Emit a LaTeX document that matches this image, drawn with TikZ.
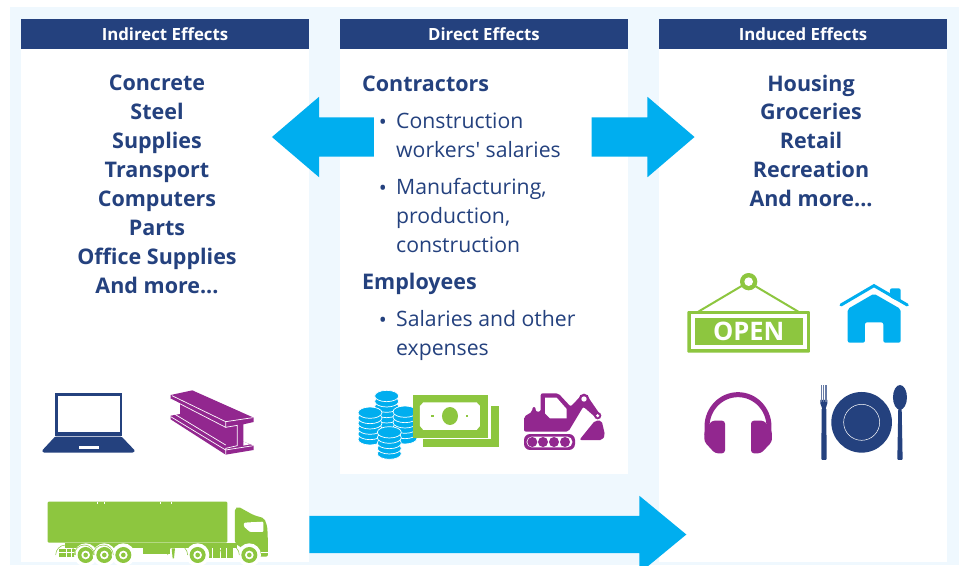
\documentclass[tikz,border=0pt]{standalone}
\usepackage{fontspec}
\setmainfont{Open Sans}
\usetikzlibrary{positioning,shapes.arrows}
\definecolor{mynavy}{HTML}{24417E}
\definecolor{myblue}{HTML}{00AEEF}
\definecolor{mygreen}{HTML}{8DC63F}
\definecolor{mypurple}{HTML}{92278F}
\definecolor{mypale}{HTML}{EFF8FE}
\tikzset{
  panel/.style={fill=white, minimum width=288pt, inner sep=0pt, anchor=north},
  header/.style={fill=mynavy, text=white, minimum width=288pt, minimum height=30pt, inner sep=0pt, anchor=north, font=\fontsize{16.8}{18}\selectfont\bfseries},
  heavy/.style={text=mynavy, align=center, inner sep=0pt, font=\fontsize{21.5}{28.9}\selectfont\bfseries},
  plain/.style={text=mynavy, align=left, inner sep=0pt, anchor=north west, font=\fontsize{21.2}{29}\selectfont},
  bigarrow/.style={single arrow, fill=myblue, inner sep=0pt, single arrow head indent=0pt},
  icon/.style={x=0.3333pt, y=-0.3333pt}
}

\begin{document}
\begin{tikzpicture}[x=1pt, y=-1pt]
\useasboundingbox (0,0) rectangle (961,565);
\fill[mypale] (10,7) rectangle (959,565);

% Indirect effects panel
\node[panel, minimum height=543pt] (leftpanel) at (165,19) {};
\node[header] (lefthead) at (165,19) {Indirect Effects};
\node[heavy, anchor=north] (lefttext) at (157,75) {Concrete\\Steel\\Supplies\\Transport\\Computers\\Parts\\Office Supplies\\And more...};

% Direct effects panel
\node[panel, minimum height=455pt] (midpanel) at (484,19) {};
\node[header] (midhead) at (484,19) {Direct Effects};
\node[heavy, anchor=west] (contractors) at (362,84) {Contractors};
\node[plain] (builders) at (396,112.5) {Construction\\workers\textquotesingle{} salaries};
\node[plain] (makers) at (396,178) {Manufacturing,\\production,\\construction};
\node[heavy, anchor=west] (employees) at (362,284) {Employees};
\node[plain] (salaries) at (396,310) {Salaries and other\\expenses};
\node[plain, below left=6.5pt and 9pt of builders.north west] (dotone) {•};
\node[plain, below left=6.5pt and 9pt of makers.north west] (dottwo) {•};
\node[plain, below left=6.5pt and 9pt of salaries.north west] (dotthree) {•};

% Induced effects panel
\node[panel, minimum height=543pt] (rightpanel) at (803,19) {};
\node[header] (righthead) at (803,19) {Induced Effects};
\node[heavy, anchor=north] (righttext) at (811,74.5) {Housing\\Groceries\\Retail\\Recreation\\And more...};

% Flow arrows
\node[bigarrow, text height=19.5pt, text depth=19.5pt, minimum height=102pt, single arrow head extend=20.5pt, single arrow tip angle=81, shape border rotate=180] (toleft) at (334.5,137) {};
\node[bigarrow, text height=19.5pt, text depth=19.5pt, minimum height=103pt, single arrow head extend=20.5pt, single arrow tip angle=81] (toright) at (631.5,137) {};
\node[bigarrow, text height=18.5pt, text depth=18.5pt, minimum height=377pt, single arrow head extend=20pt, single arrow tip angle=79] (tobottom) at (486.5,534.5) {};

% Laptop
\begin{scope}[shift={(20,380)}, icon]
\fill[mynavy] (105,38) rectangle (307,168);
\fill[white] (113,47) rectangle (300,157);
\fill[mynavy, rounded corners=1pt] (105,170) -- (305,170) -- (345,212) -- (340,218) -- (70,218) -- (66,212) -- cycle;
\fill[white] (177,198) rectangle (237,208);
\end{scope}

% Steel beam
\begin{scope}[shift={(160,385)}, icon]
\fill[mypurple] (32,30) -- (97,16) -- (281,98) -- (281,111) -- (250,118) -- (250,170) -- (281,182) -- (281,195) -- (197,209) -- (32,103) -- (32,92) -- (60,87) -- (60,55) -- (32,42) -- cycle;
\draw[white, line width=0.7pt] (36,32) -- (197,110) -- (278,98);
\draw[white, line width=0.7pt] (197,110) -- (197,127) -- (232,121) -- (232,182) -- (197,190) -- (197,209);
\draw[white, line width=0.7pt] (32,42) -- (197,127);
\draw[white, line width=0.7pt] (45,88) -- (197,180);
\draw[white, line width=0.7pt] (32,95) -- (197,195) -- (280,182);
\fill[white] (250,170) -- (270,178) -- (250,182) -- cycle;
\end{scope}

% Truck
\begin{scope}[shift={(20,380)}, icon]
\fill[mygreen, rounded corners=1pt] (83,365) rectangle (622,488);
\draw[white, line width=0.3pt] (232,365) -- (232,372) (253,365) -- (253,372) (420,365) -- (420,372) (454,365) -- (454,372);
\fill[mygreen] (135,488) rectangle (500,505);
\fill[mygreen] (118,508) rectangle (170,530);
\draw[white, line width=0.4pt] (118,516) -- (165,516) (140,508) -- (140,530) (155,508) -- (155,530);
\fill[mygreen] (370,505) rectangle (450,523);
\fill[mygreen] (455,505) -- (465,505) -- (462,535) -- (458,535) -- cycle;
\fill[mygreen] (500,488) rectangle (650,505);
\fill[mygreen] (555,505) rectangle (640,535);
\draw[white, line width=0.5pt] (578,505) -- (578,535) (600,505) -- (600,535) (620,505) -- (620,535);
\fill[mygreen, rounded corners=2pt] (645,385) -- (655,380) -- (700,405) -- (733,415) -- (742,440) -- (744,490) -- (744,530) -- (700,530) -- (660,500) -- (645,490) -- cycle;
\fill[white, rounded corners=1pt] (672,428) -- (730,425) -- (730,456) -- (690,456) -- (672,440) -- cycle;
\draw[white, line width=0.5pt] (695,425) -- (695,456);
\draw[white, line width=0.5pt] (722,518) -- (744,518);
\foreach \wx in {197,253,310,533,688} {
  \fill[white] (\wx,525) circle (35);
  \draw[mygreen, line width=0.5pt] (\wx-30,525) arc[start angle=180, end angle=0, radius=-30];
  \fill[mygreen] (\wx,525) circle (24);
  \fill[white] (\wx,525) circle (13);
  \fill[mygreen] (\wx,525) circle (7);
}
\end{scope}

% Coins
\begin{scope}[shift={(340,370)}, icon]
\foreach \cx/\ctop/\clayers in {140/78/5, 90/128/5, 195/125/5, 148/187/4} {
  \foreach \clayer in {\clayers,...,0} {
    \fill[myblue, draw=white, line width=0.7pt] (\cx,\ctop+\clayer*16) ellipse (36 and 17);
  }
}
\end{scope}

% Bank notes
\begin{scope}[shift={(340,370)}, icon]
\fill[mygreen] (452,108) rectangle (476,230);
\fill[mygreen] (250,208) rectangle (476,230);
\fill[mygreen] (218,76) rectangle (443,205);
\fill[white] (250,97) -- (410,97) -- (420,108) -- (420,168) -- (410,180) -- (250,180) -- (240,168) -- (240,108) -- cycle;
\fill[mygreen] (330,138) ellipse (24 and 27);
\fill[mygreen] (274,135) rectangle (282,141);
\fill[mygreen] (377,135) rectangle (385,141);
\end{scope}

% Excavator
\begin{scope}[shift={(515,385)}, icon]
\fill[mypurple, rounded corners=6pt] (27,147) rectangle (180,195);
\fill[white, rounded corners=5pt] (35,155) rectangle (172,187);
\foreach \wx in {52,84,117,150} \fill[mypurple] (\wx,171) circle (15);
\fill[mypurple, rounded corners=2pt] (27,140) -- (27,95) -- (52,80) -- (52,66) -- (62,66) -- (62,80) -- (77,80) -- (77,25) -- (130,25) -- (167,65) -- (200,30) -- (215,30) -- (255,88) -- (245,100) -- (205,65) -- (160,140) -- cycle;
\fill[white] (90,38) -- (125,38) -- (155,72) -- (155,100) -- (105,100) -- (90,85) -- cycle;
\fill[mypurple] (207,42) circle (16);
\fill[white] (207,42) circle (8);
\fill[mypurple] (248,92) circle (11);
\fill[white] (248,92) circle (5);
\fill[mypurple, rounded corners=2pt] (193,165) -- (240,107) -- (260,107) -- (270,150) -- (262,165) -- cycle;
\end{scope}

% Open sign
\begin{scope}[shift={(670,265)}, icon]
\draw[mygreen, line width=2pt] (85,140) -- (220,60) (385,140) -- (250,60);
\fill[mygreen] (236,50) circle (26);
\fill[white] (236,50) circle (13);
\fill[mygreen, rounded corners=1pt] (52,138) rectangle (420,263);
\fill[white] (62,148) rectangle (410,252);
\fill[mygreen] (75,160) rectangle (398,240);
\node[text=white, inner sep=0pt, font=\fontsize{25.5}{26}\selectfont\bfseries] (opentext) at (236,200) {OPEN};
\end{scope}

% House
\begin{scope}[shift={(670,265)}, icon]
\fill[myblue, rounded corners=2pt] (660,100) -- (660,70) -- (692,70) -- (692,110) -- cycle;
\draw[white, line width=1.5pt] (512,128) -- (612,72) -- (712,128);
\draw[myblue, line width=3pt, line cap=round] (513,120) -- (612,62) -- (712,120);
\fill[myblue, rounded corners=2pt] (533,132) -- (612,86) -- (692,132) -- (692,233) -- (640,233) -- (640,172) -- (585,172) -- (585,233) -- (533,233) -- cycle;
\end{scope}

% Headphones
\begin{scope}[shift={(670,265)}, icon]
\draw[mypurple, line width=5pt] (111,510) -- (111,485) arc[start angle=180, end angle=0, x radius=93, y radius=-96] -- (297,510);
\fill[mypurple, rounded corners=3pt] (125,467) -- (165,467) -- (165,565) -- (135,565) -- (103,530) -- (103,500) -- cycle;
\fill[mypurple, rounded corners=3pt] (283,467) -- (243,467) -- (243,565) -- (273,565) -- (306,530) -- (306,500) -- cycle;
\end{scope}

% Place setting
\begin{scope}[shift={(670,265)}, icon]
\fill[mynavy] (575,472) circle (91);
\draw[white, line width=0.5pt] (575,472) circle (54);
\fill[mynavy, rounded corners=1pt] (455,430) -- (469,430) -- (470,585) -- (454,585) -- cycle;
\fill[mynavy] (451,405) -- (472,405) -- (472,415) -- (466,435) -- (458,435) -- (451,415) -- cycle;
\foreach \tx in {452,458,464,469} \fill[mynavy!70] (\tx,360) rectangle ++(3,50);
\fill[mynavy] (690,397) ellipse (21 and 37);
\fill[mynavy, rounded corners=1pt] (685,425) -- (695,425) -- (698,585) -- (682,585) -- cycle;
\end{scope}

\end{tikzpicture}
\end{document}
